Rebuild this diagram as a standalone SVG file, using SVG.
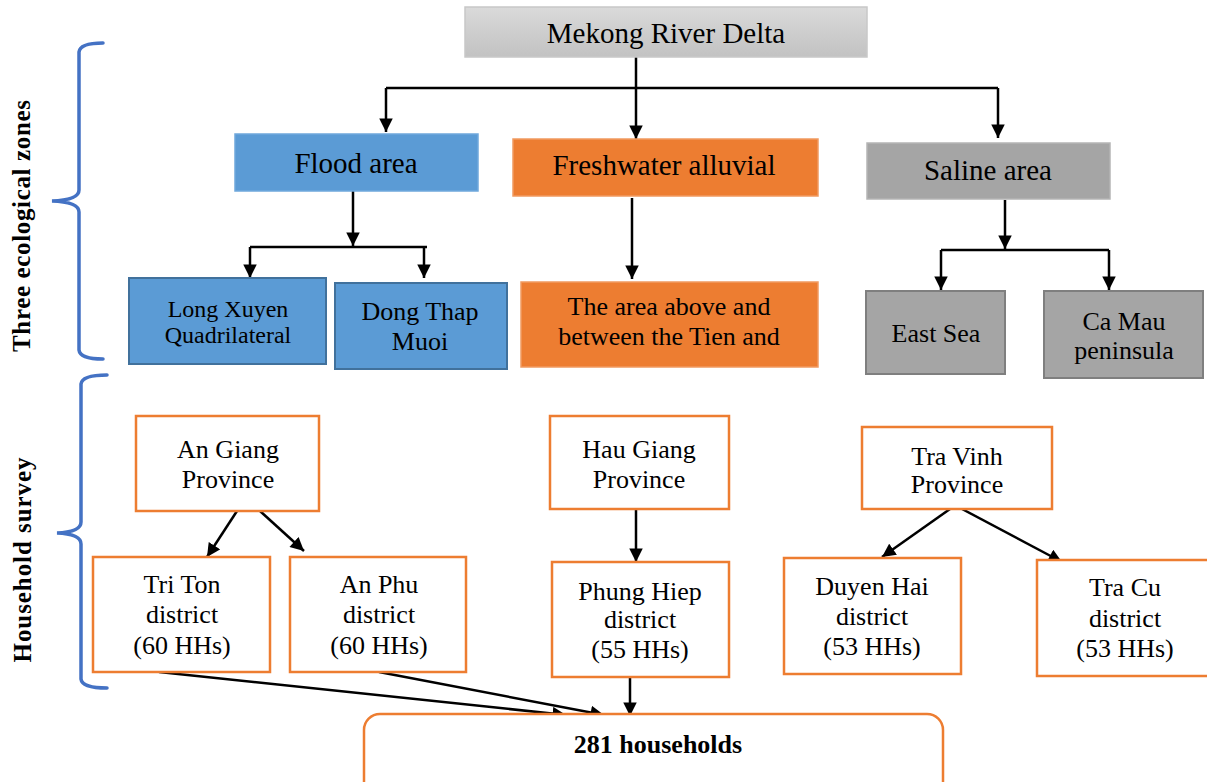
<svg xmlns="http://www.w3.org/2000/svg" width="1207" height="782" viewBox="0 0 1207 782">
<style>
  text { font-family: "Liberation Serif", "Times New Roman", serif; fill: #000; text-anchor: middle; }
  .t1 { font-size: 29px; }
  .t2 { font-size: 26px; }
  .t3 { font-size: 24px; }
  .side { font-size: 25px; font-weight: bold; }
  .bold { font-weight: bold; font-size: 26px; }
  .ln { stroke: #000; stroke-width: 2.5; fill: none; }
  .arr { stroke: #000; stroke-width: 2.5; fill: none; marker-end: url(#ah); }
  .ob { fill: #fff; stroke: #ed7d31; stroke-width: 2.5; }
  .brace { fill: none; stroke: #4472c4; stroke-width: 3.5; stroke-linecap: round; }
</style>
<defs>
  <marker id="ah" viewBox="0 0 10 10" refX="10" refY="5" markerWidth="5.6" markerHeight="5.4" markerUnits="strokeWidth" orient="auto">
    <path d="M0,0 L10,5 L0,10 z" fill="#000"/>
  </marker>
  <linearGradient id="gray" x1="0" y1="0" x2="0" y2="1">
    <stop offset="0" stop-color="#dadada"/>
    <stop offset="1" stop-color="#c2c2c2"/>
  </linearGradient>
</defs>
<rect width="1207" height="782" fill="#fff"/>

<g id="braces">
  <path class="brace" d="M103,43 Q80,43 79,52 L79,190 Q79,200 52,201 Q79,202 79,212 L79,350 Q80,359 103,359"/>
  <path class="brace" d="M107,375 Q82,375 81,384 L81,522 Q81,532 57,533 Q81,534 81,544 L81,679 Q82,688 107,688"/>
  <text class="side" transform="translate(30,226) rotate(-90)" textLength="252" lengthAdjust="spacing">Three ecological zones</text>
  <text class="side" transform="translate(31,560) rotate(-90)" textLength="205" lengthAdjust="spacing">Household survey</text>
</g>

<g id="connectors">
  <polyline class="ln" points="386,88 998,88"/>
  <line class="arr" x1="636" y1="57" x2="636" y2="139"/>
  <line class="arr" x1="386" y1="88" x2="386" y2="132"/>
  <line class="arr" x1="998" y1="88" x2="998" y2="138"/>
  <line class="arr" x1="353" y1="191" x2="353" y2="246"/>
  <polyline class="ln" points="250,247 427,247"/>
  <line class="arr" x1="250" y1="247" x2="250" y2="278"/>
  <line class="arr" x1="424" y1="247" x2="424" y2="278"/>
  <line class="arr" x1="632" y1="198" x2="632" y2="279"/>
  <line class="arr" x1="1005" y1="200" x2="1005" y2="249"/>
  <polyline class="ln" points="941,250 1109,250"/>
  <line class="arr" x1="941" y1="250" x2="941" y2="290"/>
  <line class="arr" x1="1109" y1="250" x2="1109" y2="290"/>
  <line class="arr" x1="237" y1="511" x2="207" y2="557"/>
  <line class="arr" x1="260" y1="511" x2="304" y2="551"/>
  <line class="arr" x1="636" y1="510" x2="636" y2="562"/>
  <line class="arr" x1="950" y1="509" x2="882" y2="557"/>
  <line class="arr" x1="962" y1="509" x2="1062" y2="562"/>
  <line class="arr" x1="159" y1="672" x2="566" y2="715"/>
  <line class="arr" x1="379" y1="672" x2="604" y2="715"/>
  <line class="arr" x1="630" y1="677" x2="630" y2="716"/>
</g>

<g id="mekong">
  <rect x="465" y="7" width="402" height="50" fill="url(#gray)" stroke="#c8c8c8" stroke-width="1.5"/>
  <text class="t1" x="666" y="43">Mekong River Delta</text>
</g>
<g id="flood">
  <rect x="235" y="134" width="243" height="57" fill="#5b9bd5" stroke="#6fa8dc" stroke-width="1.5"/>
  <text class="t1" x="356" y="173">Flood area</text>
</g>
<g id="freshwater">
  <rect x="513" y="139" width="305" height="57" fill="#ed7d31" stroke="#f19a60" stroke-width="1.5"/>
  <text class="t1" x="664" y="175">Freshwater alluvial</text>
</g>
<g id="saline">
  <rect x="867" y="143" width="243" height="56" fill="#a5a5a5" stroke="#b5b5b5" stroke-width="1.5"/>
  <text class="t1" x="988" y="180">Saline area</text>
</g>
<g id="longxuyen">
  <rect x="129" y="278" width="197" height="86" fill="#5b9bd5" stroke="#41719c" stroke-width="2"/>
  <text class="t3" x="228" y="317">Long Xuyen</text>
  <text class="t3" x="228" y="343">Quadrilateral</text>
</g>
<g id="dongthap">
  <rect x="335" y="283" width="172" height="86" fill="#5b9bd5" stroke="#41719c" stroke-width="2"/>
  <text class="t2" x="420" y="320">Dong Thap</text>
  <text class="t2" x="420" y="350">Muoi</text>
</g>
<g id="tienarea">
  <rect x="521" y="282" width="297" height="85" fill="#ed7d31" stroke="#f19a60" stroke-width="1.5"/>
  <text class="t2" x="669" y="315">The area above and</text>
  <text class="t2" x="669" y="345">between the Tien and</text>
</g>
<g id="eastsea">
  <rect x="866" y="291" width="139" height="83" fill="#a5a5a5" stroke="#7f7f7f" stroke-width="2"/>
  <text class="t2" x="936" y="342">East Sea</text>
</g>
<g id="camau">
  <rect x="1044" y="291" width="159" height="87" fill="#a5a5a5" stroke="#7f7f7f" stroke-width="2"/>
  <text class="t2" x="1124" y="330">Ca Mau</text>
  <text class="t2" x="1124" y="359">peninsula</text>
</g>

<g id="angiang">
  <rect class="ob" x="136" y="416" width="183" height="95"/>
  <text class="t2" x="228" y="458">An Giang</text>
  <text class="t2" x="228" y="488">Province</text>
</g>
<g id="haugiang">
  <rect class="ob" x="550" y="416" width="179" height="93"/>
  <text class="t2" x="639" y="458">Hau Giang</text>
  <text class="t2" x="639" y="488">Province</text>
</g>
<g id="travinh">
  <rect class="ob" x="862" y="427" width="190" height="82"/>
  <text class="t2" x="957" y="465">Tra Vinh</text>
  <text class="t2" x="957" y="493">Province</text>
</g>
<g id="triton">
  <rect class="ob" x="93" y="557" width="177" height="115"/>
  <text class="t2" x="182" y="593">Tri Ton</text>
  <text class="t2" x="182" y="623">district</text>
  <text class="t2" x="182" y="654">(60 HHs)</text>
</g>
<g id="anphu">
  <rect class="ob" x="290" y="557" width="176" height="115"/>
  <text class="t2" x="379" y="593">An Phu</text>
  <text class="t2" x="379" y="623">district</text>
  <text class="t2" x="379" y="654">(60 HHs)</text>
</g>
<g id="phunghiep">
  <rect class="ob" x="552" y="562" width="177" height="115"/>
  <text class="t2" x="640" y="600">Phung Hiep</text>
  <text class="t2" x="640" y="628">district</text>
  <text class="t2" x="640" y="658">(55 HHs)</text>
</g>
<g id="duyenhai">
  <rect class="ob" x="784" y="558" width="177" height="116"/>
  <text class="t2" x="872" y="595">Duyen Hai</text>
  <text class="t2" x="872" y="625">district</text>
  <text class="t2" x="872" y="655">(53 HHs)</text>
</g>
<g id="tracu">
  <rect class="ob" x="1037" y="560" width="172" height="116"/>
  <text class="t2" x="1125" y="596">Tra Cu</text>
  <text class="t2" x="1125" y="627">district</text>
  <text class="t2" x="1125" y="657">(53 HHs)</text>
</g>
<g id="households">
  <rect class="ob" x="364" y="714" width="579" height="90" rx="16" ry="16"/>
  <text class="bold" x="658" y="753">281 households</text>
</g>
</svg>
